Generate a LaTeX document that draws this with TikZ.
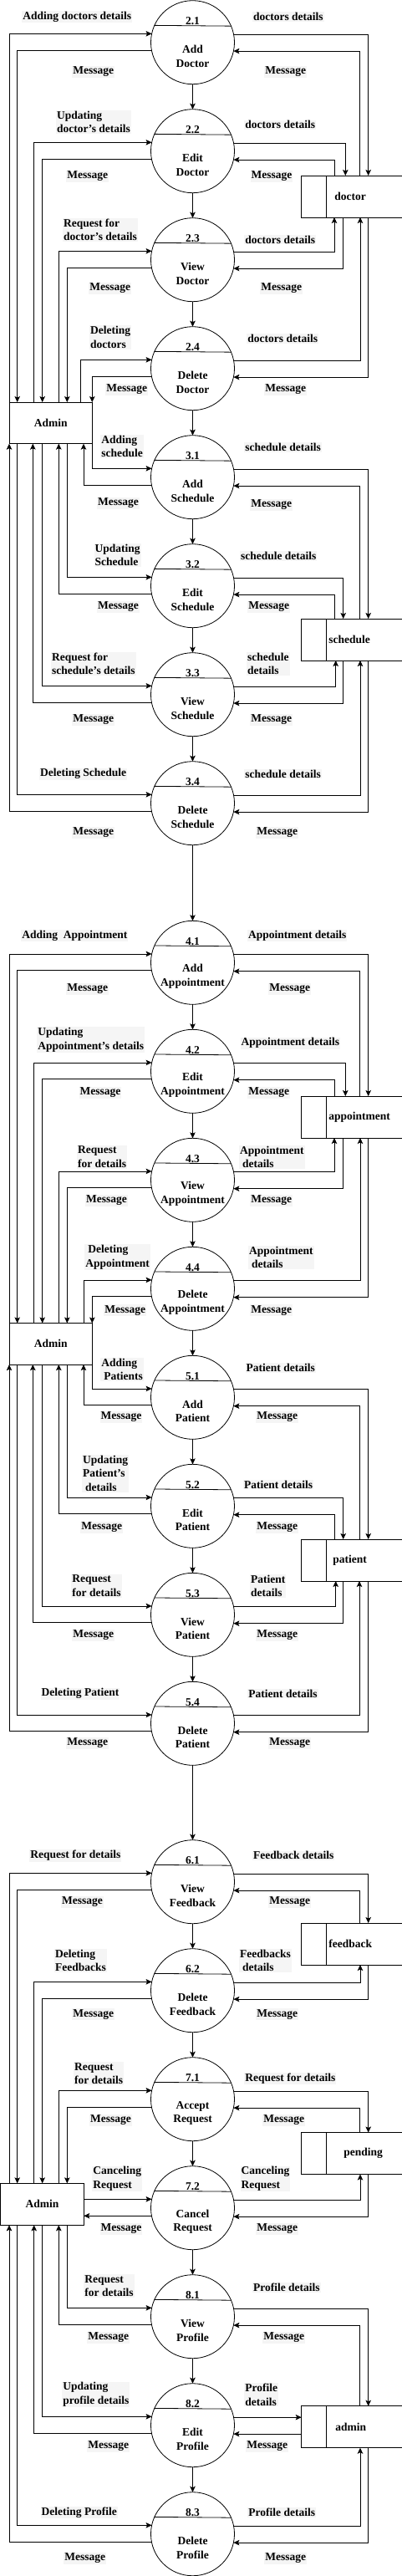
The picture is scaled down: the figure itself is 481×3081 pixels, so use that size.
\documentclass[tikz,border=0pt]{standalone}
\usepackage{fontspec}
\setmainfont{Liberation Serif}
\usetikzlibrary{arrows.meta}
\newcommand\dfdfont{\fontsize{13.5}{16.6}\selectfont\bfseries}
\newcommand\mkproc[4]{%
  \node[proc] (#1) at (230.5,#2) {};
  \draw (#1.156.42) -- (#1.23.58);
  \node[num] (#1n) at ([yshift=21pt]#1.center) {#3};
  \node[pname] (#1t) at ([yshift=-16.6pt]#1.center) {#4};
}
\newcommand\mkstore[4]{%
  \node[store] (#1) at (420.85,#2) {};
  \draw (#1.north east) -- (#1.north west) -- (#1.south west) -- (#1.south east);
  \draw ([xshift=30pt]#1.north west) -- ([xshift=30pt]#1.south west);
  \node[stxt] (#1t) at (#3,#2) {#4};
}
\newcommand\lcon[5]{%
  \draw[arr] (#4,0 |- #3.#2) |- (#1.168.46);
  \draw[arr] (#1.191.54) -| (#5,0 |- #3.#2);
}
\newcommand\rcon[5]{%
  \draw[arr] (#1.11.54) -| (#4,0 |- #2.#3);
  \draw[arr] (#5,0 |- #2.#3) |- (#1.348.46);
}
\newcommand\lb[4]{\node[lbl] (#1) at (#2,#3) {#4};}
\begin{document}
\begin{tikzpicture}[x=1pt,y=-1pt,line width=0.8pt,
  proc/.style={circle,draw,minimum size=100pt,inner sep=0pt,outer sep=0pt},
  arr/.style={-{Stealth[length=7pt,width=6.5pt,inset=1.5pt]}},
  lbl/.style={fill=black!4,inner sep=1pt,align=left,font=\dfdfont,anchor=west},
  num/.style={inner sep=0pt,font=\dfdfont,anchor=base},
  pname/.style={inner sep=0pt,font=\dfdfont,align=center},
  adm/.style={draw,minimum width=99.3pt,minimum height=49.7pt,inner sep=0pt,outer sep=0pt,font=\dfdfont},
  store/.style={minimum width=120.3pt,minimum height=50pt,inner sep=0pt,outer sep=0pt},
  stxt/.style={inner sep=0pt,font=\dfdfont,anchor=west}]
\useasboundingbox (0,0) rectangle (481,3081);

% labels
\lb{L1}{26}{20}{Adding doctors details}
\lb{L2}{301.7}{20}{doctors details}
\lb{L3}{86}{85.7}{Message}
\lb{L4}{316}{85.7}{Message}
\lb{L5}{66.7}{145.8}{Updating\\doctor's details}
\lb{L6}{292}{149.3}{doctors details}
\lb{L7}{79}{211}{Message}
\lb{L8}{299.3}{211}{Message}
\lb{L9}{74.7}{275}{Request for\\doctor's details}
\lb{L10}{292}{286.7}{doctors details}
\lb{L11}{106}{345}{Message}
\lb{L12}{311}{345}{Message}
\lb{L13}{106.7}{403.5}{Deleting\\doctors}
\lb{L14}{295}{405}{doctors details}
\lb{L15}{126}{465.7}{Message}
\lb{L16}{316}{465.7}{Message}
\lb{L17}{120}{533.7}{Adding\\schedule}
\lb{L18}{292}{535}{schedule details}
\lb{L19}{115.7}{601.7}{Message}
\lb{L20}{299}{604}{Message}
\lb{L21}{112.3}{664}{Updating\\Schedule}
\lb{L22}{286.7}{665}{schedule details}
\lb{L23}{115.7}{725.7}{Message}
\lb{L24}{296}{725.7}{Message}
\lb{L25}{60.7}{794}{Request for\\schedule's details}
\lb{L26}{294.7}{794}{schedule\\details}
\lb{L27}{86}{860.7}{Message}
\lb{L28}{299}{860.7}{Message}
\lb{L29}{46.7}{925.7}{Deleting Schedule}
\lb{L30}{292}{925.7}{schedule details}
\lb{L31}{86}{995.7}{Message}
\lb{L32}{306}{995.7}{Message}
\lb{L33}{25}{1119}{Adding\enspace Appointment}
\lb{L34}{295.7}{1119}{Appointment details}
\lb{L35}{79}{1182.7}{Message}
\lb{L36}{321}{1182.7}{Message}
\lb{L37}{44}{1243.7}{Updating\\Appointment's details}
\lb{L38}{287.3}{1247.7}{Appointment details}
\lb{L39}{94.3}{1306.7}{Message}
\lb{L40}{296}{1306.7}{Message}
\lb{L41}{91.7}{1383.7}{Request\\for details}
\lb{L42}{285.7}{1383.7}{Appointment\\\hspace*{3pt}details}
\lb{L43}{101.7}{1435.7}{Message}
\lb{L44}{299}{1435.7}{Message}
\lb{L45}{101}{1503.7}{\hspace*{3pt}Deleting\\Appointment}
\lb{L46}{296.7}{1503.7}{Appointment\\\hspace*{3pt}details}
\lb{L47}{124}{1567.3}{Message}
\lb{L48}{299}{1567.3}{Message}
\lb{L49}{120}{1638}{Adding\\\hspace*{3pt}Patients}
\lb{L50}{293.3}{1636}{Patient details}
\lb{L51}{119.3}{1695}{Message}
\lb{L52}{306}{1695}{Message}
\lb{L53}{97.7}{1762.3}{Updating\\Patient's\\\hspace*{3pt}details}
\lb{L54}{290.7}{1775.7}{Patient details}
\lb{L55}{96}{1826.7}{Message}
\lb{L56}{306}{1826.7}{Message}
\lb{L57}{85}{1896.8}{Request\\for details}
\lb{L58}{298.7}{1896.8}{Patient\\details}
\lb{L59}{86}{1955.7}{Message}
\lb{L60}{306}{1955.7}{Message}
\lb{L61}{48.3}{2025.7}{Deleting Patient}
\lb{L62}{296}{2025.7}{Patient details}
\lb{L63}{79}{2085}{Message}
\lb{L64}{321}{2085}{Message}
\lb{L65}{35}{2219.3}{Request for details}
\lb{L66}{301.7}{2219.3}{Feedback details}
\lb{L67}{72.7}{2275}{Message}
\lb{L68}{321}{2275}{Message}
\lb{L69}{64.7}{2345}{Deleting\\Feedbacks}
\lb{L70}{285.7}{2345}{Feedbacks\\\hspace*{3pt}details}
\lb{L71}{86}{2409.3}{Message}
\lb{L72}{306}{2409.3}{Message}
\lb{L73}{87.7}{2480}{Request\\for details}
\lb{L74}{292}{2485.7}{Request for details}
\lb{L75}{106.7}{2535.7}{Message}
\lb{L76}{314}{2535.7}{Message}
\lb{L77}{110}{2606}{Canceling\\Request}
\lb{L78}{287.3}{2606}{Canceling\\Request}
\lb{L79}{119.3}{2665.7}{Message}
\lb{L80}{306}{2665.7}{Message}
\lb{L81}{100}{2734}{Request\\for details}
\lb{L82}{301.7}{2735.7}{Profile details}
\lb{L83}{104}{2795.7}{Message}
\lb{L84}{314}{2795.7}{Message}
\lb{L85}{74}{2864}{Updating\\profile details}
\lb{L86}{292}{2864}{Profile\\details}
\lb{L87}{104}{2925.7}{Message}
\lb{L88}{294}{2925.7}{Message}
\lb{L89}{48.3}{3005}{Deleting Profile}
\lb{L90}{296}{3005}{Profile details}
\lb{L91}{76}{3060}{Message}
\lb{L92}{316}{3060}{Message}

% processes
\mkproc{p21}{50.7}{2.1}{Add\\Doctor}
\mkproc{p22}{180.7}{2.2}{Edit\\Doctor}
\mkproc{p23}{310.7}{2.3}{View\\Doctor}
\mkproc{p24}{440.7}{2.4}{Delete\\Doctor}
\mkproc{p31}{570.7}{3.1}{Add\\Schedule}
\mkproc{p32}{700.7}{3.2}{Edit\\Schedule}
\mkproc{p33}{830.7}{3.3}{View\\Schedule}
\mkproc{p34}{960.7}{3.4}{Delete\\Schedule}
\mkproc{p41}{1151.3}{4.1}{Add\\Appointment}
\mkproc{p42}{1281.3}{4.2}{Edit\\Appointment}
\mkproc{p43}{1411.3}{4.3}{View\\Appointment}
\mkproc{p44}{1541.3}{4.4}{Delete\\Appointment}
\mkproc{p51}{1671.3}{5.1}{Add\\Patient}
\mkproc{p52}{1801.3}{5.2}{Edit\\Patient}
\mkproc{p53}{1931.3}{5.3}{View\\Patient}
\mkproc{p54}{2061.3}{5.4}{Delete\\Patient}
\mkproc{p61}{2250.7}{6.1}{View\\Feedback}
\mkproc{p62}{2380.7}{6.2}{Delete\\Feedback}
\mkproc{p71}{2510.7}{7.1}{Accept\\Request}
\mkproc{p72}{2640.7}{7.2}{Cancel\\Request}
\mkproc{p81}{2770.7}{8.1}{View\\Profile}
\mkproc{p82}{2900.7}{8.2}{Edit\\Profile}
\mkproc{p83}{3030.7}{8.3}{Delete\\Profile}

% admins
\node[adm] (admA) at (60.65,505.85) {Admin};
\node[adm] (admB) at (60.65,1607.3) {Admin};
\node[adm,minimum width=99.8pt,minimum height=50pt] (admC) at (50.4,2636.3) {Admin};

% stores
\mkstore{doc}{235}{400}{doctor}
\mkstore{sch}{765}{393}{schedule}
\mkstore{app}{1336}{393}{appointment}
\mkstore{pat}{1866}{398}{patient}
\mkstore{fb}{2325}{393}{feedback}
\mkstore{pend}{2575.5}{411}{pending}
\mkstore{ads}{2902.7}{401}{admin}

% chain
\foreach \a/\b in {p21/p22,p22/p23,p23/p24,p24/p31,p31/p32,p32/p33,p33/p34,p34/p41,
  p41/p42,p42/p43,p43/p44,p44/p51,p51/p52,p52/p53,p53/p54,p54/p61,
  p61/p62,p62/p71,p71/p72,p72/p81,p81/p82,p82/p83}
  \draw[arr] (\a) -- (\b);

% admin side
\lcon{p21}{north}{admA}{11}{20.7}
\lcon{p22}{north}{admA}{40.7}{50.7}
\lcon{p23}{north}{admA}{70.3}{80.3}
\lcon{p24}{north}{admA}{96.7}{110.3}
\lcon{p31}{south}{admA}{110.3}{100}
\lcon{p32}{south}{admA}{80.3}{70.3}
\lcon{p33}{south}{admA}{50.7}{39.3}
\lcon{p34}{south}{admA}{20.7}{11}
\lcon{p41}{north}{admB}{11}{20.7}
\lcon{p42}{north}{admB}{40.7}{50.7}
\lcon{p43}{north}{admB}{70.3}{80.3}
\lcon{p44}{north}{admB}{100}{110.3}
\lcon{p51}{south}{admB}{110.3}{100}
\lcon{p52}{south}{admB}{80.3}{70.3}
\lcon{p53}{south}{admB}{50.7}{39.3}
\lcon{p54}{south}{admB}{20.7}{11}
\lcon{p61}{north}{admC}{11}{20.7}
\lcon{p62}{north}{admC}{40.7}{50.7}
\lcon{p71}{north}{admC}{70.3}{80.3}
\draw[arr] (admC.east |- p72.168.46) -- (p72.168.46);
\draw[arr] (p72.191.54) -- (admC.east |- p72.191.54);
\lcon{p81}{south}{admC}{80.3}{70.3}
\lcon{p82}{south}{admC}{50.7}{40.7}
\lcon{p83}{south}{admC}{20.7}{11}

% store side
\rcon{p21}{doc}{north}{440.7}{430}
\rcon{p22}{doc}{north}{413.3}{400}
\rcon{p23}{doc}{south}{400}{410.7}
\rcon{p24}{doc}{south}{431}{440.7}
\rcon{p31}{sch}{north}{440.7}{430}
\rcon{p32}{sch}{north}{410.7}{400}
\rcon{p33}{sch}{south}{401.7}{410.7}
\rcon{p34}{sch}{south}{431}{440.7}
\rcon{p41}{app}{north}{440.7}{430}
\rcon{p42}{app}{north}{413.3}{400}
\rcon{p43}{app}{south}{400}{410.7}
\rcon{p44}{app}{south}{431}{440.7}
\rcon{p51}{pat}{north}{440.7}{430}
\rcon{p52}{pat}{north}{410.7}{400}
\rcon{p53}{pat}{south}{401.7}{410.7}
\rcon{p54}{pat}{south}{430}{440.7}
\rcon{p61}{fb}{north}{440.7}{430}
\rcon{p62}{fb}{south}{431}{440.7}
\rcon{p71}{pend}{north}{440.7}{430}
\rcon{p72}{pend}{south}{431}{440.7}
\rcon{p81}{ads}{north}{440.7}{430}
\draw[arr] (p82.11.54) -- (ads.west |- p82.11.54);
\draw[arr] (ads.west |- p82.348.46) -- (p82.348.46);
\rcon{p83}{ads}{south}{431}{440.7}
\end{tikzpicture}
\end{document}
